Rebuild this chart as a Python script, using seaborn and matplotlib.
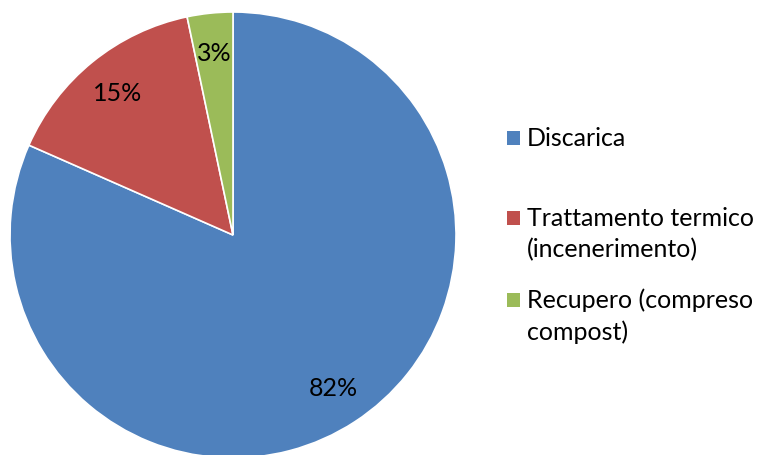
import matplotlib
matplotlib.use("Agg")
import matplotlib.pyplot as plt
import seaborn as sns
from matplotlib.patches import Rectangle

categorie = ["Discarica", "Trattamento termico\n(incenerimento)", "Recupero (compreso\ncompost)"]
percentuali = [81.6, 15.1, 3.3]
colori = ["#4F81BD", "#C0504D", "#9BBB59"]

sns.set_style("white")
plt.rcParams['font.family'] = ['Lato', 'DejaVu Sans']

W, H = 758, 455
fig = plt.figure(figsize=(W / 100, H / 100), dpi=100)

# pie: centro (233, 235), raggio 223 px
cx, cy, r = 233, 235, 223
ax = fig.add_axes([(cx - r) / W, (H - cy - r) / H, 2 * r / W, 2 * r / H])
wedges, testi, autotesti = ax.pie(
    percentuali, colors=colori, startangle=90, counterclock=False,
    autopct=lambda p: f"{p:.0f}%", pctdistance=0.82,
    wedgeprops=dict(edgecolor="white", linewidth=1.2),
    textprops=dict(fontsize=18, color="black"))
ax.set_xlim(-1, 1)
ax.set_ylim(-1, 1)
ax.axis("off")

# legenda manuale
leg_y = [138, 218, 300]
passo = 32
for y, lab, col in zip(leg_y, categorie, colori):
    fig.patches.append(Rectangle((507 / W, 1 - (y + 7) / H), 13 / W, 14 / H,
                                 transform=fig.transFigure, facecolor=col, edgecolor="none"))
    for i, riga in enumerate(lab.split("\n")):
        fig.text(527 / W, 1 - (y + i * passo) / H, riga, fontsize=18,
                 va="center", ha="left", color="black")

fig.savefig("out.png", dpi=100)
